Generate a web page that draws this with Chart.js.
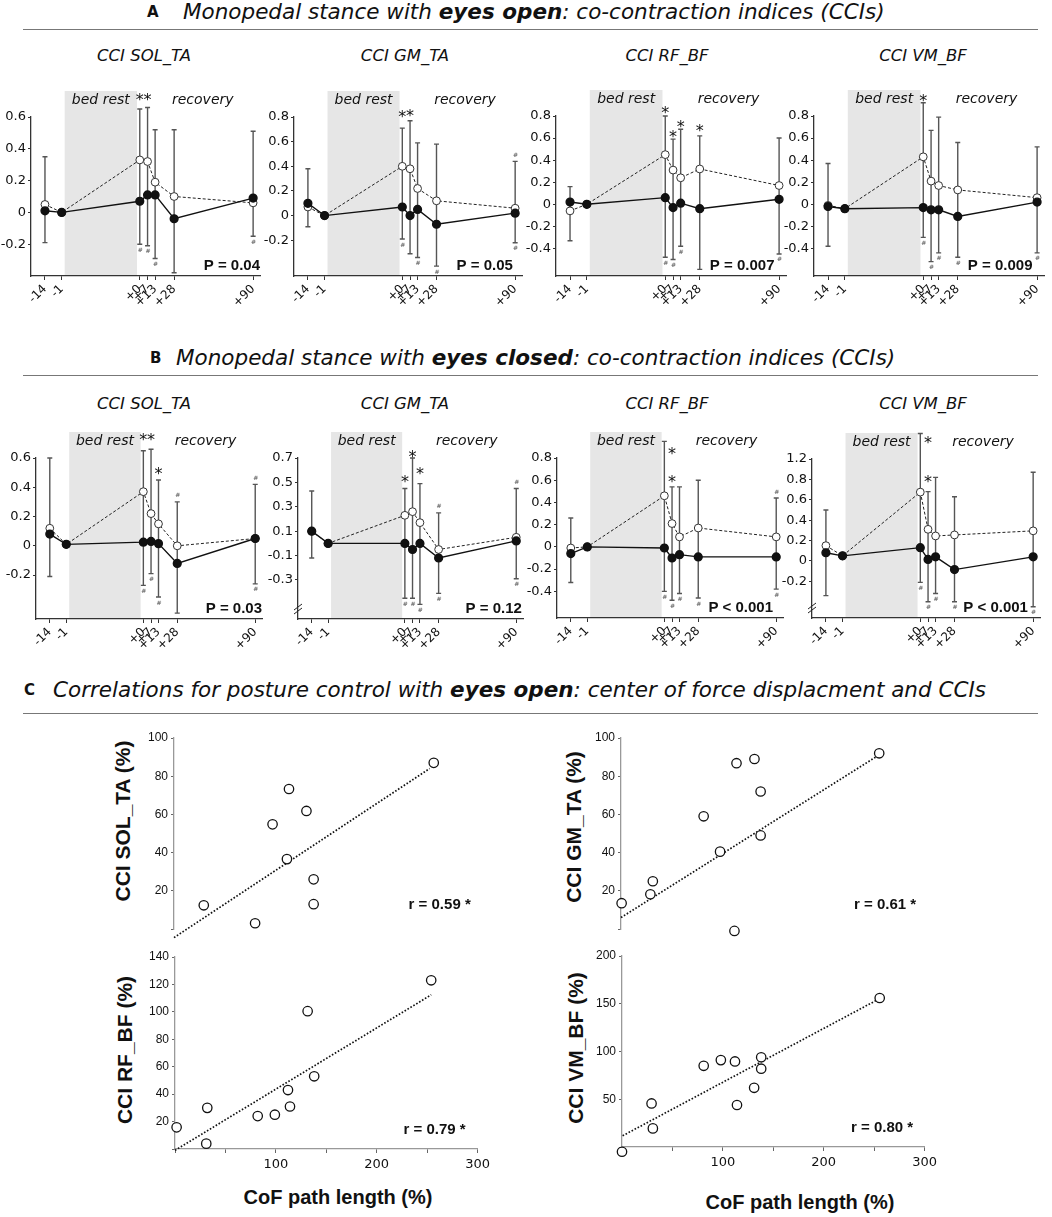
<!DOCTYPE html>
<html>
<head>
<meta charset="utf-8">
<script src="https://cdn.jsdelivr.net/npm/chart.js@4.4.0/dist/chart.umd.min.js"></script>
<style>
  body { margin: 0; background: #fff; }
  #fig { position: relative; width: 1052px; height: 1217px; overflow: hidden; font-family: "DejaVu Sans", sans-serif; color: #111; }
  .hdr { position: absolute; white-space: nowrap; font-size: 21.5px; line-height: 24px; font-style: italic; }
  .key { position: absolute; font-weight: bold; font-size: 15px; line-height: 24px; }
  .rule { position: absolute; height: 0; border-top: 1.5px solid #777; }
  .ttl { position: absolute; font-style: italic; font-size: 16.5px; white-space: nowrap; transform: translate(-50%, -50%); }
  .ylab { position: absolute; font-family: "Liberation Sans", Arial, sans-serif; font-weight: bold; font-size: 21px; white-space: nowrap; transform: translate(-50%, -50%) rotate(-90deg); }
  .xlab { position: absolute; font-family: "Liberation Sans", Arial, sans-serif; font-weight: bold; font-size: 20px; white-space: nowrap; transform: translate(-50%, -50%); }
</style>
</head>
<body>
<div id="fig">
  <div class="key" style="left:147px;top:0px">A</div>
  <div class="hdr" style="left:183px;top:0px">Monopedal stance with <b>eyes open</b>: co-contraction indices (CCIs)</div>
  <div class="rule" style="left:23px;top:29px;width:1015px"></div>

  <div class="key" style="left:150px;top:346px">B</div>
  <div class="hdr" style="left:176px;top:346px">Monopedal stance with <b>eyes closed</b>: co-contraction indices (CCIs)</div>
  <div class="rule" style="left:23px;top:375px;width:1015px"></div>

  <div class="key" style="left:24px;top:678px">C</div>
  <div class="hdr" style="left:53px;top:678px">Correlations for posture control with <b>eyes open</b>: center of force displacment and CCIs</div>
  <div class="rule" style="left:23px;top:713px;width:1015px"></div>

  <div class="ttl" style="left:144px;top:55px">CCI SOL_TA</div>
  <div class="ttl" style="left:405px;top:55px">CCI GM_TA</div>
  <div class="ttl" style="left:667px;top:55px">CCI RF_BF</div>
  <div class="ttl" style="left:923px;top:55px">CCI VM_BF</div>
  <div class="ttl" style="left:144px;top:403px">CCI SOL_TA</div>
  <div class="ttl" style="left:405px;top:403px">CCI GM_TA</div>
  <div class="ttl" style="left:667px;top:403px">CCI RF_BF</div>
  <div class="ttl" style="left:923px;top:403px">CCI VM_BF</div>

  <div class="ylab" style="left:123px;top:821px">CCI SOL_TA (%)</div>
  <div class="ylab" style="left:574px;top:827px">CCI GM_TA (%)</div>
  <div class="ylab" style="left:125px;top:1050px">CCI RF_BF (%)</div>
  <div class="ylab" style="left:576px;top:1048px">CCI VM_BF (%)</div>
  <div class="xlab" style="left:338px;top:1197px">CoF path length (%)</div>
  <div class="xlab" style="left:800px;top:1202px">CoF path length (%)</div>
</div>

<script>
// time points (days relative to bed rest) and where they sit on the axis (0..100)
const days = ['-14', '-1', '+0', '+7', '+13', '+28', '+90'];
const dayPos = [6.1, 13.4, 47.5, 50.9, 54.2, 62.5, 97.0];
const bedRest = [14.7, 46.3];

// --- A: eyes open ---
const aSolOpen   = [0.05, 0, 0.33, 0.32, 0.19, 0.10, 0.06];
const aSolFilled = [0.01, 0, 0.07, 0.11, 0.11, -0.04, 0.09];
const aSolHi     = [0.35, null, 0.65, 0.66, 0.52, 0.52, 0.51];
const aSolLo     = [-0.19, null, -0.20, -0.21, -0.29, -0.38, -0.15];

const aGmOpen   = [0.07, 0, 0.40, 0.38, 0.22, 0.12, 0.06];
const aGmFilled = [0.10, 0, 0.07, 0.00, 0.05, -0.07, 0.02];
const aGmHi     = [0.38, null, 0.71, 0.77, 0.59, 0.58, 0.44];
const aGmLo     = [-0.09, null, -0.19, -0.31, -0.34, -0.41, -0.22];

const aRfOpen   = [-0.06, 0, 0.45, 0.31, 0.24, 0.32, 0.17];
const aRfFilled = [0.02, 0, 0.06, -0.03, 0.01, -0.04, 0.045];
const aRfHi     = [0.16, null, 0.80, 0.59, 0.68, 0.62, 0.60];
const aRfLo     = [-0.33, null, -0.48, -0.50, -0.38, -0.59, -0.45];

const aVmOpen   = [-0.01, -0.04, 0.43, 0.21, 0.17, 0.13, 0.06];
const aVmFilled = [-0.02, -0.04, -0.03, -0.05, -0.05, -0.11, 0.02];
const aVmHi     = [0.37, null, 0.92, 0.67, 0.79, 0.56, 0.52];
const aVmLo     = [-0.38, null, -0.30, -0.52, -0.44, -0.48, -0.44];

// --- B: eyes closed ---
const bSolOpen   = [0.12, 0.01, 0.37, 0.22, 0.15, 0.00, 0.05];
const bSolFilled = [0.08, 0.01, 0.025, 0.03, 0.015, -0.12, 0.05];
const bSolHi     = [0.60, null, 0.65, 0.66, 0.45, 0.30, 0.42];
const bSolLo     = [-0.21, null, -0.27, -0.19, -0.35, -0.46, -0.26];

const bGmOpen   = [0.10, 0.00, 0.23, 0.26, 0.17, -0.05, 0.05];
const bGmFilled = [0.10, 0.00, 0.00, -0.05, 0.00, -0.12, 0.02];
const bGmHi     = [0.43, null, 0.45, 0.70, 0.49, 0.25, 0.45];
const bGmLo     = [-0.12, null, -0.45, -0.45, -0.50, -0.41, -0.29];

const bRfOpen   = [-0.01, 0.00, 0.46, 0.21, 0.09, 0.17, 0.09];
const bRfFilled = [-0.06, 0.00, -0.01, -0.10, -0.07, -0.09, -0.09];
const bRfHi     = [0.26, null, 0.95, 0.54, 0.54, 0.60, 0.44];
const bRfLo     = [-0.32, null, -0.40, -0.48, -0.42, -0.46, -0.38];

const bVmOpen   = [0.15, 0.05, 0.675, 0.31, 0.245, 0.255, 0.295];
const bVmFilled = [0.08, 0.05, 0.13, 0.015, 0.04, -0.085, 0.04];
const bVmHi     = [0.50, null, 1.25, 0.68, 0.82, 0.63, 0.87];
const bVmLo     = [-0.34, null, -0.21, -0.40, -0.32, -0.40, -0.45];

// y tick values and labels
const ticksA1 = [-0.2, 0, 0.2, 0.4, 0.6];
const labelsA1 = ['-0.2', '0', '0.2', '0.4', '0.6'];
const ticksA2 = [-0.2, 0, 0.2, 0.4, 0.6, 0.8];
const labelsA2 = ['-0.2', '0', '0.2', '0.4', '0.6', '0.8'];
const ticksA3 = [-0.4, -0.2, 0, 0.2, 0.4, 0.6, 0.8];
const labelsA3 = ['-0.4', '-0.2', '0', '0.2', '0.4', '0.6', '0.8'];
const ticksB2 = [-0.3, -0.1, 0.1, 0.3, 0.5, 0.7];
const labelsB2 = ['-0.3', '-0.1', '0.1', '0.3', '0.5', '0.7'];
const ticksB4 = [-0.2, 0, 0.2, 0.4, 0.6, 0.8, 1.0];
const labelsB4 = ['-0.2', '0', '0.2', '0.4', '0.6', '0.8', '1.2'];

// --- C: correlations (CoF path length vs CCI, %) ---
const cSolX = [0, 28, 29, 79, 96, 112, 110, 129, 136, 136, 253];
const cSolY = [-6, -6.6, 12.4, 3, 54.8, 73.3, 36.6, 61.8, 26, 13, 87];
const cSolFitX = [0, 249];
const cSolFitY = [-4.5, 84];

const cGmX = [0.6, 28.6, 31, 80.5, 96.5, 112.5, 110.5, 130, 136, 136, 251.5];
const cGmY = [13.5, 18.2, 25, 59, 40.5, 86.8, -1, 89, 72, 49, 92];
const cGmFitX = [0, 248];
const cGmFitY = [6, 90];

const cRfX = [1.6, 32, 31, 82, 99, 112, 114, 131.5, 138, 254];
const cRfY = [15.8, 30, 3.9, 24, 25, 43, 31, 100.5, 53, 123];
const cRfFitX = [0, 254];
const cRfFitY = [-1, 112.4];

const cVmX = [0, 29.3, 30.6, 81, 98, 112, 114, 131, 138, 138, 255.5];
const cVmY = [-5, 45.6, 19.5, 85, 91, 89.6, 44, 62, 94, 82, 156];
const cVmFitX = [0.6, 253];
const cVmFitY = [11.8, 154];

const xTicksC = [0, 50, 100, 150, 200, 250, 300];
const xLabelsC = ['', '', '100', '', '200', '', '300'];

// Extra drawing: bed-rest band, error bars, asterisks, P values, r values
const decor = {
  id: 'decor',
  beforeDraw(chart, args, o) {
    if (o.mode !== 'line') return;
    const { ctx, chartArea: a, scales: { x } } = chart;
    const x0 = x.getPixelForValue(bedRest[0]);
    const x1 = x.getPixelForValue(bedRest[1]);
    ctx.save();
    ctx.fillStyle = '#e6e6e6';
    ctx.fillRect(x0, a.top - 26, x1 - x0, a.bottom - a.top + 26);
    ctx.restore();
  },
  beforeDatasetsDraw(chart, args, o) {
    if (o.mode !== 'line') return;
    const { ctx, scales: { x, y } } = chart;
    ctx.save();
    ctx.strokeStyle = '#555';
    ctx.lineWidth = 1.4;
    o.hi.forEach((hi, i) => {
      if (hi === null) return;
      const px = x.getPixelForValue(dayPos[i]);
      const top = y.getPixelForValue(hi);
      const bot = y.getPixelForValue(o.lo[i]);
      ctx.beginPath();
      ctx.moveTo(px, top); ctx.lineTo(px, bot);
      ctx.moveTo(px - 2.5, top); ctx.lineTo(px + 2.5, top);
      ctx.moveTo(px - 2.5, bot); ctx.lineTo(px + 2.5, bot);
      ctx.stroke();
    });
    ctx.restore();
  },
  afterDraw(chart, args, o) {
    const { ctx, chartArea: a, scales: { x, y } } = chart;
    ctx.save();
    if (o.mode === 'line') {
      const x0 = x.getPixelForValue(bedRest[0]);
      const x1 = x.getPixelForValue(bedRest[1]);
      ctx.fillStyle = '#111';
      ctx.font = 'italic 14px "DejaVu Sans"';
      ctx.textAlign = 'center';
      ctx.textBaseline = 'middle';
      ctx.fillText('bed rest', (x0 + x1) / 2, a.top - 17);
      ctx.fillText('recovery', x.getPixelForValue(75), a.top - 17);

      ctx.font = '16px "DejaVu Sans"';
      ctx.textBaseline = 'alphabetic';
      o.stars.forEach(s => {
        ctx.fillText('*', x.getPixelForValue(dayPos[s[0]]), y.getPixelForValue(s[1]) + 9);
      });

      ctx.fillStyle = '#777';
      ctx.font = 'italic bold 6px "DejaVu Sans"';
      ctx.textBaseline = 'middle';
      o.marksLo.forEach(i => {
        ctx.fillText('#', x.getPixelForValue(dayPos[i]), y.getPixelForValue(o.lo[i]) + 6);
      });
      o.marksHi.forEach(i => {
        ctx.fillText('#', x.getPixelForValue(dayPos[i]), y.getPixelForValue(o.hi[i]) - 6);
      });

      ctx.fillStyle = '#111';
      ctx.font = 'bold 15px "Liberation Sans"';
      ctx.textAlign = 'right';
      ctx.fillText(o.p, x.getPixelForValue(o.pAt), a.bottom - 10);

      if (o.brk) {
        ctx.strokeStyle = '#222';
        ctx.lineWidth = 1;
        ctx.beginPath();
        [-2, 2].forEach(d => {
          ctx.moveTo(a.left - 4, a.bottom - 10 + d + 3);
          ctx.lineTo(a.left + 4, a.bottom - 10 + d - 3);
        });
        ctx.stroke();
      }
    } else if (o.mode === 'scatter') {
      ctx.fillStyle = '#111';
      ctx.font = 'bold 15px "Liberation Sans"';
      ctx.textAlign = 'left';
      ctx.textBaseline = 'middle';
      ctx.fillText(o.r, x.getPixelForValue(o.rAt[0]), y.getPixelForValue(o.rAt[1]));
    }
    ctx.restore();
  }
};
Chart.register(decor);

function addCanvas(l, t, w, h) {
  const c = document.createElement('canvas');
  c.width = w; c.height = h;
  c.style.cssText = `position:absolute;left:${l}px;top:${t}px;width:${w}px;height:${h}px`;
  document.getElementById('fig').appendChild(c);
  return c;
}

function lineChart(o) {
  const [l, t, r, b] = o.rect;
  const cv = addCanvas(l - 31, t - 36, r - l + 41, b - t + 74);
  const pts = arr => dayPos.map((x, i) => ({ x, y: arr[i] }));
  new Chart(cv, {
    type: 'line',
    data: {
      datasets: [
        { data: pts(o.filled), borderColor: '#111', borderWidth: 1.4, pointRadius: 3.9,
          pointBackgroundColor: '#111', pointBorderColor: '#111', clip: false },
        { data: pts(o.open), borderColor: '#222', borderWidth: 1, borderDash: [3, 2], pointRadius: 3.9,
          pointBackgroundColor: '#fff', pointBorderColor: '#333', pointBorderWidth: 1, clip: false }
      ]
    },
    options: {
      responsive: false, animation: false, events: [],
      layout: { padding: { left: 0, top: 36, right: 10, bottom: 0 } },
      plugins: {
        legend: { display: false }, tooltip: { enabled: false },
        decor: { mode: 'line', hi: o.hi, lo: o.lo, stars: o.stars, p: o.p, pAt: o.pAt,
                 marksLo: o.marksLo, marksHi: o.marksHi || [], brk: !!o.brk }
      },
      scales: {
        x: {
          type: 'linear', min: 0, max: 100,
          afterBuildTicks: s => { s.ticks = dayPos.map(v => ({ value: v })); },
          afterFit: s => { s.height = 38; },
          ticks: { autoSkip: false, minRotation: 45, maxRotation: 45, padding: 2, color: '#111',
                   font: { family: 'DejaVu Sans', size: 12 }, callback: (v, i) => days[i] },
          grid: { drawOnChartArea: false, drawTicks: true, tickLength: 4, color: '#333' },
          border: { color: '#333', width: 1.3 }
        },
        y: {
          min: o.yMin, max: o.yMax,
          afterBuildTicks: s => { s.ticks = o.yTicks.map(v => ({ value: v })); },
          afterFit: s => { s.width = 31; },
          ticks: { padding: 2, color: '#111', font: { family: 'DejaVu Sans', size: 13 },
                   callback: (v, i) => o.yLabels[i] },
          grid: { drawOnChartArea: false, drawTicks: true, tickLength: 3, color: '#333' },
          border: { color: '#333', width: 1.3 }
        }
      }
    }
  });
}

function scatterChart(o) {
  const [l, t, r, b] = o.rect;
  const xH = o.xAxis ? 30 : 0;
  const padB = o.xAxis ? 32 : 22;
  const cv = addCanvas(l - 40, t - 12, r - l + 52, b - t + 12 + padB);
  new Chart(cv, {
    type: 'scatter',
    data: {
      datasets: [
        { data: o.xs.map((x, i) => ({ x, y: o.ys[i] })), pointRadius: 4.7, pointBackgroundColor: '#fff',
          pointBorderColor: '#111', pointBorderWidth: 1.3, clip: false },
        { data: o.fx.map((x, i) => ({ x, y: o.fy[i] })), showLine: true, pointRadius: 0,
          borderColor: '#111', borderWidth: 1.7, borderDash: [1.6, 1.8], clip: false }
      ]
    },
    options: {
      responsive: false, animation: false, events: [],
      layout: { padding: { left: 0, top: 12, right: 12, bottom: padB - xH } },
      plugins: {
        legend: { display: false }, tooltip: { enabled: false },
        decor: { mode: 'scatter', r: o.r, rAt: o.rAt }
      },
      scales: {
        x: {
          type: 'linear', display: o.xAxis, min: 0, max: 300,
          afterBuildTicks: s => { s.ticks = xTicksC.map(v => ({ value: v })); },
          afterFit: s => { s.height = xH; },
          ticks: { autoSkip: false, maxRotation: 0, padding: 4, color: '#111',
                   font: { family: 'DejaVu Sans', size: 13 }, callback: (v, i) => xLabelsC[i] },
          grid: { drawOnChartArea: false, tickLength: 4, color: '#666' },
          border: { color: '#999', width: 1.3 }
        },
        y: {
          min: 0, max: o.yMax,
          afterBuildTicks: s => { s.ticks = o.yTicks.map(v => ({ value: v })); },
          afterFit: s => { s.width = 40; },
          ticks: { padding: 3, color: '#111', font: { family: 'Liberation Sans', size: 12 },
                   callback: (v, i) => (i === 0 ? '' : String(o.yTicks[i])) },
          grid: { drawOnChartArea: false, tickLength: 3, color: '#666' },
          border: { color: '#999', width: 1.3 }
        }
      }
    }
  });
}

// Panel A
lineChart({ rect: [31, 117, 260, 276], yMin: -0.4, yMax: 0.6, yTicks: ticksA1, yLabels: labelsA1,
  open: aSolOpen, filled: aSolFilled, hi: aSolHi, lo: aSolLo,
  stars: [[2, 0.73], [3, 0.73]], p: 'P = 0.04', pAt: 100, marksLo: [2, 3, 4, 6] });
lineChart({ rect: [294, 117, 522, 276], yMin: -0.49, yMax: 0.8, yTicks: ticksA2, yLabels: labelsA2,
  open: aGmOpen, filled: aGmFilled, hi: aGmHi, lo: aGmLo,
  stars: [[2, 0.83], [3, 0.84]], p: 'P = 0.05', pAt: 96, marksLo: [2, 4, 5, 6], marksHi: [6] });
lineChart({ rect: [556, 116, 786, 276], yMin: -0.65, yMax: 0.8, yTicks: ticksA3, yLabels: labelsA3,
  open: aRfOpen, filled: aRfFilled, hi: aRfHi, lo: aRfLo,
  stars: [[2, 0.86], [3, 0.65], [4, 0.74], [5, 0.70]], p: 'P = 0.007', pAt: 95, marksLo: [2, 3, 4, 6] });
lineChart({ rect: [814, 116, 1044, 276], yMin: -0.65, yMax: 0.8, yTicks: ticksA3, yLabels: labelsA3,
  open: aVmOpen, filled: aVmFilled, hi: aVmHi, lo: aVmLo,
  stars: [[2, 0.97]], p: 'P = 0.009', pAt: 95, marksLo: [2, 3, 4, 5, 6] });

// Panel B
lineChart({ rect: [36, 458, 262, 619], yMin: -0.5, yMax: 0.6, yTicks: ticksA1, yLabels: labelsA1,
  open: bSolOpen, filled: bSolFilled, hi: bSolHi, lo: bSolLo,
  stars: [[2, 0.75], [3, 0.75], [4, 0.52]], p: 'P = 0.03', pAt: 100, marksLo: [2, 3, 4, 6], marksHi: [5, 6] });
lineChart({ rect: [298, 458, 523, 619], yMin: -0.62, yMax: 0.7, yTicks: ticksB2, yLabels: labelsB2,
  open: bGmOpen, filled: bGmFilled, hi: bGmHi, lo: bGmLo,
  stars: [[2, 0.535], [3, 0.74], [4, 0.60]], p: 'P = 0.12', pAt: 99.5, marksLo: [2, 3, 4, 5, 6], marksHi: [5, 6], brk: true });
lineChart({ rect: [557, 458, 783, 618], yMin: -0.64, yMax: 0.8, yTicks: ticksA3, yLabels: labelsA3,
  open: bRfOpen, filled: bRfFilled, hi: bRfHi, lo: bRfLo,
  stars: [[3, 0.87], [3, 0.62]], p: 'P < 0.001', pAt: 95.6, marksLo: [2, 3, 4, 5, 6], marksHi: [6] });
lineChart({ rect: [812, 459, 1040, 618], yMin: -0.56, yMax: 1.0, yTicks: ticksB4, yLabels: labelsB4,
  open: bVmOpen, filled: bVmFilled, hi: bVmHi, lo: bVmLo,
  stars: [[3, 1.2], [3, 0.81]], p: 'P < 0.001', pAt: 94.7, marksLo: [2, 3, 4, 5, 6], brk: true });

// Panel C
scatterChart({ rect: [174, 738, 482, 929], yMax: 100, yTicks: [0, 20, 40, 60, 80, 100], xAxis: false,
  xs: cSolX, ys: cSolY, fx: cSolFitX, fy: cSolFitY, r: 'r = 0.59 *', rAt: [228.5, 12.6] });
scatterChart({ rect: [621, 738, 929, 929], yMax: 100, yTicks: [0, 20, 40, 60, 80, 100], xAxis: false,
  xs: cGmX, ys: cGmY, fx: cGmFitX, fy: cGmFitY, r: 'r = 0.61 *', rAt: [227, 12.6] });
scatterChart({ rect: [175, 957, 482, 1149], yMax: 140, yTicks: [0, 20, 40, 60, 80, 100, 120, 140], xAxis: true,
  xs: cRfX, ys: cRfY, fx: cRfFitX, fy: cRfFitY, r: 'r = 0.79 *', rAt: [226.5, 13.9] });
scatterChart({ rect: [622, 956, 929, 1147], yMax: 200, yTicks: [0, 50, 100, 150, 200], xAxis: true,
  xs: cVmX, ys: cVmY, fx: cVmFitX, fy: cVmFitY, r: 'r = 0.80 *', rAt: [227, 20] });
</script>
</body>
</html>
